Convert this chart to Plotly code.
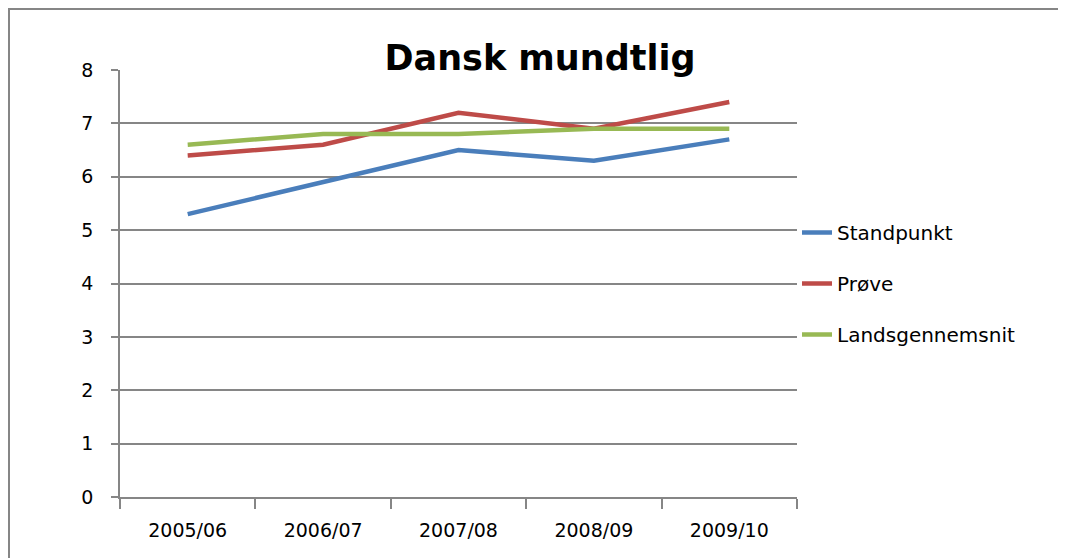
import plotly.graph_objects as go

years = ["2005/06", "2006/07", "2007/08", "2008/09", "2009/10"]
standpunkt = [5.3, 5.9, 6.5, 6.3, 6.7]
proeve = [6.4, 6.6, 7.2, 6.9, 7.4]
landsgennemsnit = [6.6, 6.8, 6.8, 6.9, 6.9]

y_ticks = [0, 1, 2, 3, 4, 5, 6, 7, 8]

series = [
    ("Standpunkt", standpunkt, "#4A7EBB"),
    ("Prøve", proeve, "#BE4B48"),
    ("Landsgennemsnit", landsgennemsnit, "#98B954"),
]

fig = go.Figure()
for name, vals, color in series:
    fig.add_trace(go.Scatter(x=years, y=vals, mode="lines", name=name,
                             legendgroup=name,
                             line=dict(color=color, width=4.5)))

grey = "#868686"
font = "DejaVu Sans, Arial, sans-serif"

fig.update_xaxes(
    type="category",
    range=[-0.5, 4.5],
    tickson="boundaries",
    ticks="outside", ticklen=10, tickcolor=grey, tickwidth=1.5,
    showline=True, linecolor=grey, linewidth=1.5,
    showgrid=False,
    ticklabelstandoff=15,
    tickfont=dict(size=19, color="black", family=font))

fig.update_yaxes(
    range=[0, 8],
    tickvals=y_ticks,
    ticks="outside", ticklen=7, tickcolor=grey, tickwidth=1.5,
    showline=True, linecolor=grey, linewidth=1.5,
    showgrid=True, gridcolor=grey, gridwidth=1.5,
    zeroline=False,
    ticklabelstandoff=14,
    tickfont=dict(size=19, color="black", family=font))

# the page body adds an 8px offset, margins are set so the plot area
# lands at x 120-797, y 70-497 in the window
fig.update_layout(
    width=1066, height=558,
    margin=dict(l=112, r=277, t=62, b=69),
    plot_bgcolor="white", paper_bgcolor="white",
    title=dict(text="<b>Dansk mundtlig</b>", x=532 / 1066, xanchor="center",
               y=1 - 50 / 558, yanchor="middle",
               font=dict(size=35, color="black", family=font)),
    legend=dict(x=1.0, xanchor="left", y=0.5, yanchor="middle",
                tracegroupgap=22,
                font=dict(size=20, color="black", family=font),
                bgcolor="rgba(0,0,0,0)"),
    showlegend=True,
)

# outer chart frame
fig.add_shape(type="rect", xref="paper", yref="paper",
              x0=(9 - 120) / 677, x1=(1062 - 120) / 677,
              y0=(497 - 570) / 427, y1=(497 - 9) / 427,
              line=dict(color=grey, width=2), layer="below")

fig.write_html("out.html")
